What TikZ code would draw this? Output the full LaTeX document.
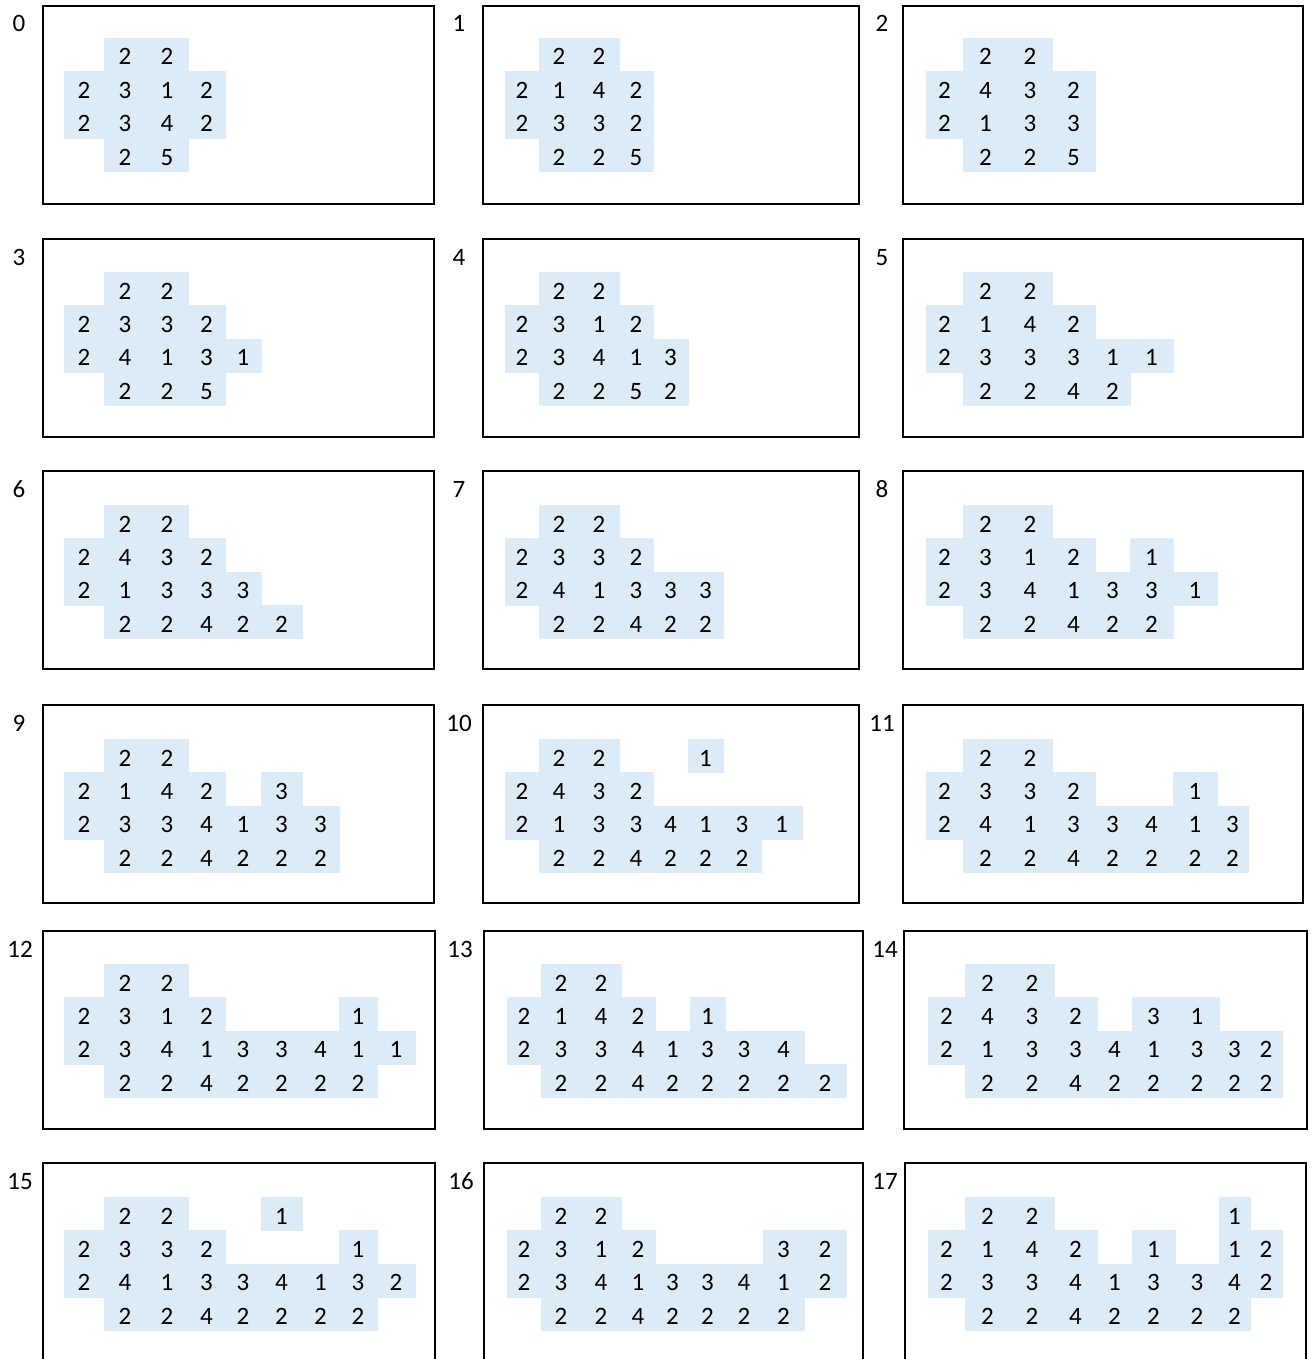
\documentclass[tikz,border=0pt]{standalone}
\usepackage{fontspec}
\setmainfont{Carlito}
\usepackage{xcolor}
\usepackage{tikz}

\definecolor{cellblue}{RGB}{221,235,247}
\newcommand\cellfont{\fontsize{25}{29}\selectfont}
% column edges of the three sheet columns
\def\colsA{{64,104,146,188,225,261,302,339,377,415}}
\def\colsB{{505,539,579,619,653,688,723,761,802,844}}
\def\colsC{{926,963,1008,1052,1095,1130,1173,1217,1248,1280}}

\begin{document}
\begin{tikzpicture}[x=1pt, y=-1pt,
        frame/.style={draw=black, line width=2.7pt},
        cell/.style={fill=cellblue, draw=cellblue, line width=0.5pt},
        num/.style={font=\cellfont, inner sep=0pt, anchor=base},
        tag/.style={font=\cellfont, inner sep=0pt, anchor=base}
        ]
        \clip (0,0) rectangle (1311,1359);
        \fill[white] (0,0) rectangle (1311,1359);

        \foreach \pn/\cols/\sx/\fxa/\fxb/\fy/\lx/\cy/\rows in {
            0/\colsA/0/43/434/6/19/38/{{x,2,2},{2,3,1,2},{2,3,4,2},{x,2,5}},
            1/\colsB/0/483/859/6/459/38/{{x,2,2},{2,1,4,2},{2,3,3,2},{x,2,2,5}},
            2/\colsC/0/903/1303/6/882/38/{{x,2,2},{2,4,3,2},{2,1,3,3},{x,2,2,5}},
            3/\colsA/0/43/434/239/19/272/{{x,2,2},{2,3,3,2},{2,4,1,3,1},{x,2,2,5}},
            4/\colsB/0/483/859/239/459/272/{{x,2,2},{2,3,1,2},{2,3,4,1,3},{x,2,2,5,2}},
            5/\colsC/0/903/1303/239/882/272/{{x,2,2},{2,1,4,2},{2,3,3,3,1,1},{x,2,2,4,2}},
            6/\colsA/0/43/434/471/19/505/{{x,2,2},{2,4,3,2},{2,1,3,3,3},{x,2,2,4,2,2}},
            7/\colsB/0/483/859/471/459/505/{{x,2,2},{2,3,3,2},{2,4,1,3,3,3},{x,2,2,4,2,2}},
            8/\colsC/0/903/1303/471/882/505/{{x,2,2},{2,3,1,2,x,1},{2,3,4,1,3,3,1},{x,2,2,4,2,2}},
            9/\colsA/0/43/434/705/19/739/{{x,2,2},{2,1,4,2,x,3},{2,3,3,4,1,3,3},{x,2,2,4,2,2,2}},
            10/\colsB/0/483/859/705/459/739/{{x,2,2,x,x,1},{2,4,3,2},{2,1,3,3,4,1,3,1},{x,2,2,4,2,2,2}},
            11/\colsC/0/903/1303/705/882/739/{{x,2,2},{2,3,3,2,x,x,1},{2,4,1,3,3,4,1,3},{x,2,2,4,2,2,2,2}},
            12/\colsA/0/43/435/931/20/964/{{x,2,2},{2,3,1,2,x,x,x,1},{2,3,4,1,3,3,4,1,1},{x,2,2,4,2,2,2,2}},
            13/\colsB/2/484/863/931/460/964/{{x,2,2},{2,1,4,2,x,1},{2,3,3,4,1,3,3,4},{x,2,2,4,2,2,2,2,2}},
            14/\colsC/2/904/1307/931/885/964/{{x,2,2},{2,4,3,2,x,3,1},{2,1,3,3,4,1,3,3,2},{x,2,2,4,2,2,2,2,2}},
            15/\colsA/0/43/435/1163/20/1197/{{x,2,2,x,x,1},{2,3,3,2,x,x,x,1},{2,4,1,3,3,4,1,3,2},{x,2,2,4,2,2,2,2}},
            16/\colsB/2/484/863/1163/461/1197/{{x,2,2},{2,3,1,2,x,x,x,3,2},{2,3,4,1,3,3,4,1,2},{x,2,2,4,2,2,2,2}},
            17/\colsC/2/905/1306/1163/885/1197/{{x,2,2,x,x,x,x,1},{2,1,4,2,x,1,x,1,2},{2,3,3,4,1,3,3,4,2},{x,2,2,4,2,2,2,2}}%
        }{
            \draw[frame] (\fxa,\fy) rectangle (\fxb,\fy+198);
            \node[tag] (lbl\pn) at (\lx,\fy+26) {\pn};
            \foreach \row [count=\r from 0] in \rows {
                \foreach \v [count=\c from 0] in \row {
                    \if x\v\else
                        \pgfmathsetmacro\xl{\cols[\c]+\sx}
                        \pgfmathsetmacro\xr{\cols[\c+1]+\sx}
                        \pgfmathsetmacro\yt{\cy+33.4*\r}
                        \fill[cell] (\xl,\yt) rectangle (\xr,\yt+33.4);
                        \node[num] (p\pn-\r-\c) at ({(\xl+\xr)/2},\yt+27) {\v};
                    \fi
                }
            }
        }
    \end{tikzpicture}
\end{document}
